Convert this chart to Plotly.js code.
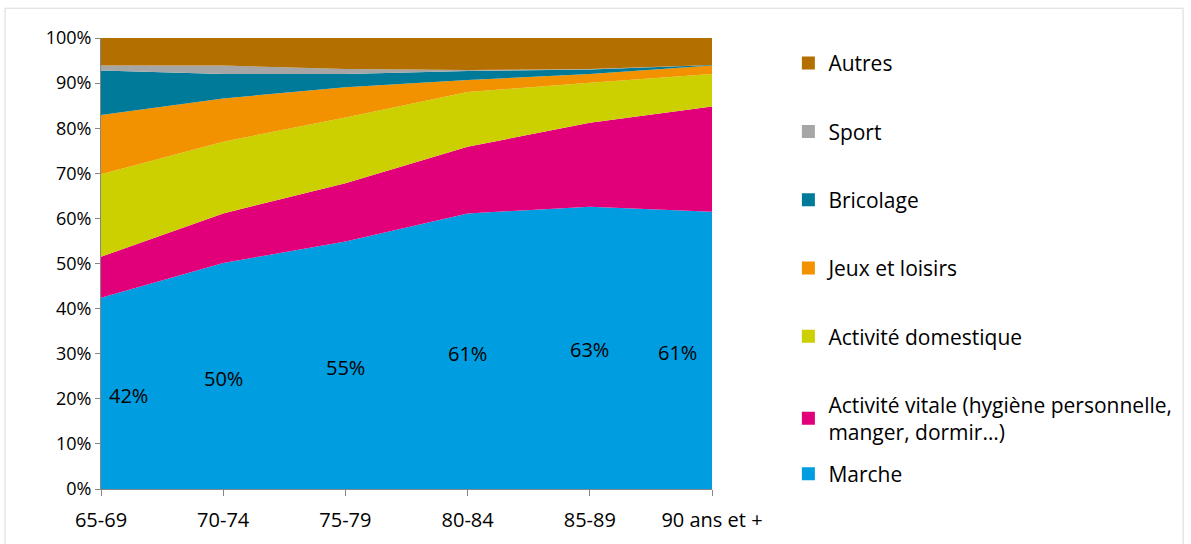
<!DOCTYPE html>
<html>
<head>
<meta charset="utf-8">
<script src="https://cdn.plot.ly/plotly-3.0.1.min.js"></script>
<style>
  html, body { margin: 0; padding: 0; background: #fff; }
  #chart { width: 1191px; height: 544px; }
</style>
</head>
<body>
<div id="chart"></div>
<script>
    // Categories (age groups)
    var ageGroups = ['65-69', '70-74', '75-79', '80-84', '85-89', '90 ans et +'];

    // Share of each activity, in %
    var marche     = [42.4, 50.1, 54.9, 61.1, 62.6, 61.5];
    var vitale     = [9.1, 11.0, 12.9, 14.8, 18.6, 23.3];
    var domestique = [18.3, 15.9, 14.6, 12.1, 8.9, 7.2];
    var jeux       = [13.1, 9.6, 6.7, 2.7, 1.9, 1.9];
    var bricolage  = [9.9, 5.4, 2.9, 2.0, 1.0, 0.1];
    var sport      = [1.1, 1.9, 1.1, 0.2, 0.1, 0.0];
    var autres     = [6.1, 6.1, 6.9, 7.1, 6.9, 6.0];

    var marcheLabels = ['42%', '50%', '55%', '61%', '63%', '61%'];

    var yTicks = [0, 10, 20, 30, 40, 50, 60, 70, 80, 90, 100];

    var font = 'Open Sans, sans-serif';

    var series = [
        {name: 'Marche', y: marche, color: '#009EE0', legend: 'legend2'},
        {name: 'Activité vitale (hygiène personnelle,<br>manger, dormir…)', y: vitale, color: '#E2007A', legend: 'legend'},
        {name: 'Activité domestique', y: domestique, color: '#CCCF00', legend: 'legend'},
        {name: 'Jeux et loisirs', y: jeux, color: '#F39200', legend: 'legend'},
        {name: 'Bricolage', y: bricolage, color: '#007A99', legend: 'legend'},
        {name: 'Sport', y: sport, color: '#A6A6A6', legend: 'legend'},
        {name: 'Autres', y: autres, color: '#B36F00', legend: 'legend'}
    ];

    var data = [];

    // stacked areas, bottom to top
    series.forEach(function(s) {
        data.push({
            type: 'scatter',
            x: ageGroups,
            y: s.y,
            stackgroup: 'one',
            mode: 'none',
            fillcolor: s.color,
            line: {width: 0},
            name: s.name,
            showlegend: false,
            hoverinfo: 'skip'
        });
    });

    // legend entries (square swatches like Excel), top item first
    series.slice().reverse().forEach(function(s, i) {
        data.push({
            type: 'scatter',
            x: [null],
            y: [null],
            mode: 'markers',
            marker: {symbol: 'square', size: 13, color: s.color},
            name: s.name,
            legend: s.legend,
            legendgroup: 'g' + i,
            showlegend: true
        });
    });

    // data labels in the middle of the Marche area
    var annotations = marcheLabels.map(function(t, i) {
        var shift = 0;
        if (i === 0) shift = 27;
        if (i === marcheLabels.length - 1) shift = -35;
        return {
            x: i,
            y: marche[i] / 2,
            xref: 'x', yref: 'y',
            text: t,
            showarrow: false,
            xshift: shift,
            yshift: -2,
            font: {family: font, size: 20, color: '#000'}
        };
    });

    var layout = {
        width: 1191,
        height: 544,
        margin: {l: 101, r: 479, t: 38, b: 55},
        paper_bgcolor: '#fff',
        plot_bgcolor: '#fff',
        font: {family: font, size: 17, color: '#000'},
        xaxis: {
            type: 'category',
            range: [0, 5],
            showgrid: false,
            zeroline: false,
            showline: true,
            linecolor: '#868686',
            linewidth: 1,
            ticks: 'outside',
            ticklen: 6,
            tickcolor: '#868686',
            ticklabelstandoff: 7,
            tickfont: {family: font, size: 20, color: '#000'},
            fixedrange: true
        },
        yaxis: {
            range: [0, 100],
            tickvals: yTicks,
            ticktext: yTicks.map(function(v) { return v + '%'; }),
            showgrid: false,
            zeroline: false,
            showline: true,
            linecolor: '#868686',
            linewidth: 1,
            ticks: 'outside',
            ticklen: 5,
            tickcolor: '#868686',
            tickfont: {family: font, size: 18, color: '#000'},
            fixedrange: true
        },
        legend: {
            x: 1.125,
            y: 0.989,
            xanchor: 'left',
            yanchor: 'top',
            traceorder: 'grouped',
            tracegroupgap: 38,
            bgcolor: 'rgba(0,0,0,0)',
            font: {family: font, size: 21, color: '#000'}
        },
        legend2: {
            x: 1.125,
            y: 0.0333,
            xanchor: 'left',
            yanchor: 'middle',
            bgcolor: 'rgba(0,0,0,0)',
            font: {family: font, size: 21, color: '#000'}
        },
        annotations: annotations,
        shapes: [{
            type: 'rect',
            xref: 'paper', yref: 'paper',
            x0: -0.157, x1: 1.771,
            y0: -0.2, y1: 1.066,
            line: {color: '#D9D9D9', width: 1},
            fillcolor: 'rgba(0,0,0,0)',
            layer: 'below'
        }],
        showlegend: true
    };

    Plotly.newPlot('chart', data, layout, {displayModeBar: false, staticPlot: true});
</script>
</body>
</html>
